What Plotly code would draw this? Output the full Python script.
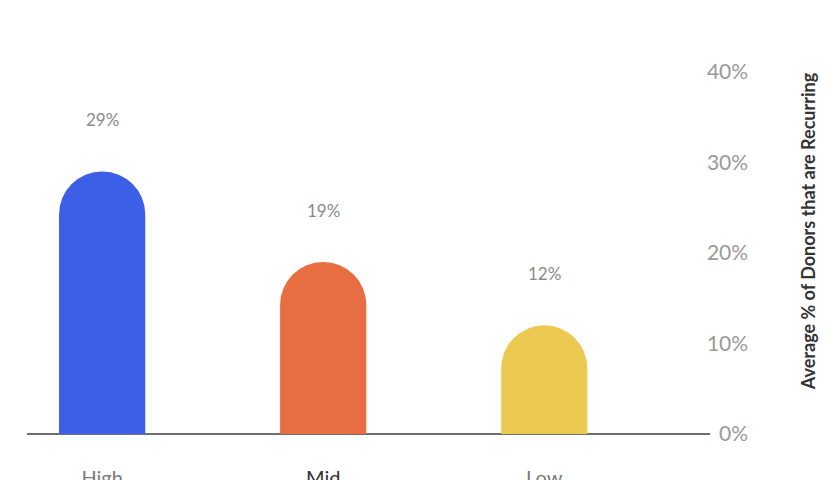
import plotly.graph_objects as go

# values
tiers = ["High", "Mid", "Low"]
recurring_pct = [29, 19, 12]
bar_colors = ["#3d5fe8", "#e66e41", "#ecc950"]
tick_colors = ["#7a7a7a", "#333333", "#7a7a7a"]
y_ticks = [0, 10, 20, 30, 40]

fig = go.Figure()

fig.add_trace(go.Bar(
    x=tiers,
    y=recurring_pct,
    marker=dict(color=bar_colors, cornerradius="50%", line_width=0),
    width=0.39,
    hoverinfo="x+y",
))

# value labels float well above each bar
for t, v in zip(tiers, recurring_pct):
    fig.add_annotation(x=t, y=v, text=f"{v}%", showarrow=False,
                       yshift=52, font=dict(size=17, color="#8a8a8a"))

# page body has an 8px margin, so margins are trimmed to compensate
fig.update_layout(
    width=840, height=480,
    margin=dict(l=19, r=0, t=6, b=40),
    plot_bgcolor="white", paper_bgcolor="white",
    font=dict(family="Lato", color="#8a8a8a"),
    showlegend=False,
)

fig.update_xaxes(
    domain=[0, 0.832],
    range=[-0.34, 2.75],
    tickvals=tiers,
    ticktext=[f'<span style="color:{c}">{t}</span>' for t, c in zip(tiers, tick_colors)],
    tickfont=dict(size=20),
    ticklabelstandoff=16,
    automargin=False,
    showline=False, showgrid=False, zeroline=False, ticks="",
)

# small negative floor so the inside "0%" label is not clipped
fig.update_yaxes(
    range=[-1.55, 46.4],
    anchor="free", position=0.882, side="right",
    automargin=False,
    tickvals=y_ticks,
    ticktext=[f"{v}%" for v in y_ticks],
    ticklabelposition="inside",
    tickfont=dict(size=21, color="#9a9a9a"),
    showgrid=False, showline=False, ticks="",
    zeroline=True, zerolinecolor="#6e6e6e", zerolinewidth=2,
    title=dict(text="Average % of Donors that are Recurring",
               font=dict(size=18, color="#333333", weight="bold"),
               standoff=55),
)

fig.write_html("out.html")
